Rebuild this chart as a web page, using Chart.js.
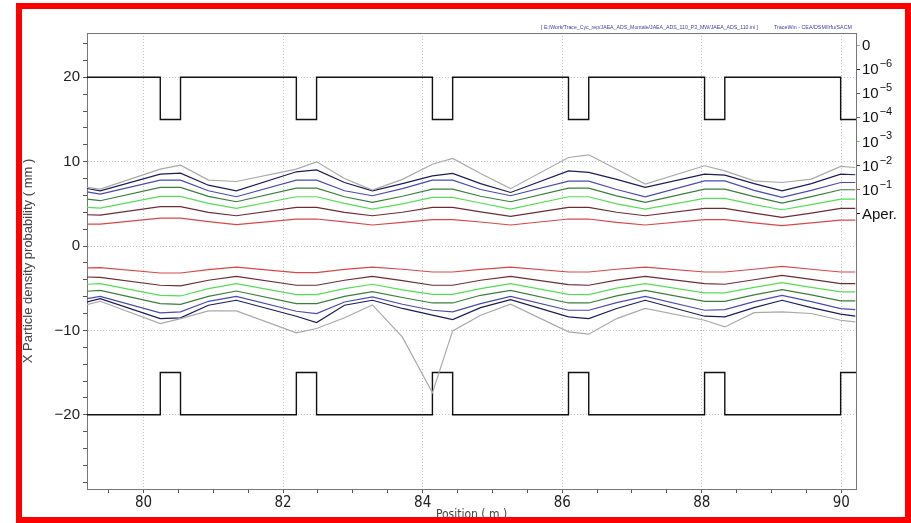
<!DOCTYPE html>
<html>
<head>
<meta charset="utf-8">
<script src="https://cdn.jsdelivr.net/npm/chart.js@4.4.1/dist/chart.umd.min.js"></script>
<style>
	html, body { margin: 0; padding: 0; background: #fff; }
	#wrap { position: relative; width: 911px; height: 523px; }
	#frame {
		position: absolute; left: 16px; top: 3px; width: 895px; height: 520px;
		box-sizing: border-box; border: 6px solid #ff0000; pointer-events: none;
	}
</style>
</head>
<body>
<div id="wrap">
	<canvas id="chart" width="911" height="523"></canvas>
	<div id="frame"></div>
</div>
<script>
'use strict';

// Sample positions along the line (m)
var positions = [79.19, 79.38, 80.24, 80.53, 80.93, 81.33, 82.19, 82.48, 82.88, 83.28,
	83.71, 84.14, 84.43, 84.83, 85.26, 86.09, 86.38, 86.78, 87.19, 88.04,
	88.33, 88.75, 89.15, 89.57, 89.99, 90.2];

// Upper envelopes (mm), one per density level
var upper0 = [6.95, 6.75, 9.11, 9.59, 7.81, 7.65, 9.11, 9.98, 8.0, 6.63,
	7.9, 9.7, 10.38, 8.6, 6.8, 10.49, 10.81, 9.1, 7.34, 9.51,
	8.91, 7.73, 7.53, 7.93, 9.43, 9.31];
var upper6 = [6.82, 6.55, 8.52, 8.64, 7.21, 6.55, 8.8, 9.03, 7.53, 6.55,
	7.4, 8.32, 8.6, 7.4, 6.35, 8.91, 8.72, 7.9, 6.95, 8.52,
	8.4, 7.4, 6.55, 7.4, 8.52, 8.45];
var upper5 = [6.43, 6.15, 7.81, 7.81, 6.55, 5.84, 7.81, 7.81, 6.55, 5.96,
	6.8, 7.81, 7.81, 6.7, 5.96, 7.69, 7.69, 6.7, 5.84, 7.73,
	7.73, 6.6, 5.76, 6.6, 7.53, 7.53];
var upper4 = [5.56, 5.37, 6.95, 6.95, 5.88, 5.25, 6.87, 6.87, 5.84, 5.17,
	5.9, 6.75, 6.75, 5.9, 5.25, 6.87, 6.87, 5.95, 5.17, 6.75,
	6.75, 5.85, 5.09, 5.85, 6.67, 6.67];
var upper3 = [4.58, 4.5, 5.88, 5.88, 5.05, 4.46, 5.84, 5.84, 5.05, 4.38,
	5.0, 5.76, 5.76, 5.1, 4.38, 5.84, 5.84, 5.0, 4.38, 5.64,
	5.64, 4.9, 4.3, 4.9, 5.56, 5.56];
var upper2 = [3.71, 3.67, 4.66, 4.66, 3.98, 3.59, 4.58, 4.58, 3.98, 3.59,
	4.0, 4.58, 4.58, 4.05, 3.51, 4.58, 4.58, 4.0, 3.59, 4.46,
	4.46, 3.9, 3.39, 3.9, 4.46, 4.46];
var upper1 = [2.6, 2.6, 3.31, 3.31, 2.9, 2.53, 3.2, 3.2, 2.87, 2.49,
	2.8, 3.12, 3.12, 2.85, 2.49, 3.2, 3.2, 2.8, 2.49, 3.12,
	3.12, 2.75, 2.41, 2.75, 3.08, 3.08];

// Lower envelopes (mm)
var lower0 = [-6.94, -6.55, -9.19, -8.6, -7.69, -7.69, -10.3, -9.78, -8.5, -6.98,
	-10.8, -17.4, -10.06, -8.2, -6.9, -10.17, -10.45, -8.6, -7.4, -8.8,
	-9.59, -7.9, -7.8, -8.0, -8.8, -9.0];
var lower6 = [-6.63, -6.23, -8.6, -8.52, -7.02, -6.43, -8.32, -9.07, -7.02, -6.43,
	-7.4, -8.2, -8.72, -7.3, -6.35, -8.4, -8.6, -7.4, -6.43, -8.32,
	-8.4, -7.3, -6.43, -7.3, -8.08, -8.32];
var lower5 = [-6.23, -5.96, -7.93, -7.81, -6.55, -5.96, -7.73, -8.01, -6.63, -6.04,
	-6.9, -7.61, -7.81, -6.83, -5.96, -7.61, -7.61, -6.7, -5.96, -7.61,
	-7.53, -6.6, -5.84, -6.6, -7.42, -7.53];
var lower4 = [-5.36, -5.25, -6.83, -6.91, -5.96, -5.33, -6.83, -6.83, -5.96, -5.41,
	-6.1, -6.75, -6.75, -5.84, -5.25, -6.75, -6.75, -5.9, -5.25, -6.55,
	-6.55, -5.8, -5.17, -5.8, -6.51, -6.51];
var lower3 = [-4.53, -4.46, -5.84, -5.92, -5.05, -4.46, -5.76, -5.76, -5.05, -4.53,
	-5.2, -5.72, -5.72, -5.05, -4.46, -5.72, -5.76, -5.0, -4.46, -5.56,
	-5.56, -4.9, -4.34, -4.9, -5.44, -5.44];
var lower2 = [-3.67, -3.71, -4.65, -4.72, -4.06, -3.59, -4.65, -4.65, -4.06, -3.59,
	-4.1, -4.65, -4.65, -4.06, -3.59, -4.58, -4.65, -4.05, -3.59, -4.46,
	-4.53, -4.0, -3.47, -3.95, -4.46, -4.46];
var lower1 = [-2.6, -2.57, -3.2, -3.2, -2.8, -2.49, -3.16, -3.16, -2.76, -2.49,
	-2.75, -3.08, -3.08, -2.76, -2.49, -3.08, -3.08, -2.75, -2.49, -3.08,
	-3.08, -2.75, -2.41, -2.75, -3.08, -3.08];

// Aperture: pipe radius and quadrupole entries (m)
var pipeRadius = 20;
var quadRadius = 15;
var quadStarts = [80.24, 82.19, 84.14, 86.09, 88.04, 89.99];
var quadLength = 0.29;

// Right-hand key, top to bottom: base text and optional exponent
var keyBases = ['0', '10', '10', '10', '10', '10', '10', 'Aper.'];
var keyExponents = ['', '\u22126', '\u22125', '\u22124', '\u22123', '\u22122', '\u22121', ''];
var keyColors = ['#a9a9a9', '#1c1c5c', '#4a4ab4', '#3b7f3b', '#55dd55', '#6e2c36', '#d84848', '#111111'];

var fileLabel = '[ E:/Work/Trace_Cyc_rep/JAEA_ADS_Montale/JAEA_ADS_110_P3_MW/JAEA_ADS_110.ini ]';
var codeLabel = 'TraceWin - CEA/DSM/Irfu/SACM';

var xMin = 79.19, xMax = 90.21;
var yMin = -28.8, yMax = 25.25;

var sansFont = '"Liberation Sans", Arial, sans-serif';
var narrowFont = '"Liberation Sans Narrow", "DejaVu Sans Condensed", sans-serif';

function pairs(ys) {
	return positions.map(function (x, i) { return { x: x, y: ys[i] }; });
}

// Pipe outline as a step line; each quadrupole narrows it for quadLength
function aperture(sign) {
	var pts = [{ x: xMin, y: sign * pipeRadius }];
	quadStarts.forEach(function (s) {
		pts.push({ x: s, y: sign * quadRadius });
		pts.push({ x: s + quadLength, y: sign * pipeRadius });
	});
	pts.push({ x: xMax, y: pts[pts.length - 1].y });
	return pts;
}

function envelope(ys, color) {
	return {
		data: pairs(ys),
		borderColor: color,
		borderWidth: 1.2,
		pointRadius: 0,
		tension: 0,
		yAxisID: 'y'
	};
}

var levels = [
	[upper0, lower0], [upper6, lower6], [upper5, lower5], [upper4, lower4],
	[upper3, lower3], [upper2, lower2], [upper1, lower1]
];

var datasets = [];
levels.forEach(function (pair, i) {
	datasets.push(envelope(pair[0], keyColors[i]));
	datasets.push(envelope(pair[1], keyColors[i]));
});
[1, -1].forEach(function (sign) {
	datasets.push({
		data: aperture(sign),
		borderColor: keyColors[7],
		borderWidth: 1.4,
		pointRadius: 0,
		stepped: 'before',
		yAxisID: 'y'
	});
});

var frame = {
	id: 'frame',
	beforeDatasetsDraw: function (chart) {
		var a = chart.chartArea, ctx = chart.ctx;
		ctx.save();
		ctx.strokeStyle = '#777';
		ctx.lineWidth = 1;
		ctx.strokeRect(a.left + 0.5, a.top + 0.5, a.right - a.left, a.bottom - a.top);
		ctx.restore();
	},
	afterDraw: function (chart) {
		var a = chart.chartArea, ctx = chart.ctx;
		var key = chart.scales.key;
		ctx.save();
		ctx.font = '6px ' + sansFont;
		ctx.fillStyle = '#3c3ca8';
		ctx.textBaseline = 'middle';
		ctx.fillText(fileLabel, a.right - 315, a.top - 6, 217);
		ctx.fillText(codeLabel, a.right - 82, a.top - 6, 78);

		// key labels with raised exponents
		ctx.fillStyle = '#111';
		keyBases.forEach(function (base, i) {
			var y = key.getPixelForValue(i);
			var x = a.right + 6;
			ctx.font = '15px ' + sansFont;
			ctx.fillText(base, x, y + 1);
			if (keyExponents[i]) {
				var w = ctx.measureText(base).width;
				ctx.font = '11px ' + sansFont;
				ctx.fillText(keyExponents[i], x + w + 1, y - 5);
			}
		});
		ctx.restore();
	}
};

function isWhole(v, step) {
	var r = Math.round(v);
	return Math.abs(v - r) < 1e-6 && r % step === 0;
}

new Chart(document.getElementById('chart'), {
	type: 'line',
	data: { datasets: datasets },
	plugins: [frame],
	options: {
		responsive: false,
		animation: false,
		layout: { padding: { top: 33, left: 0, right: 0, bottom: 0 } },
		plugins: {
			legend: { display: false },
			tooltip: { enabled: false }
		},
		scales: {
			x: {
				type: 'linear',
				min: xMin,
				max: xMax,
				afterFit: function (scale) { scale.height = 34; },
				border: { color: '#555', dash: [1, 2] },
				grid: {
					color: function (c) { return isWhole(c.tick.value, 2) ? '#c4c4c4' : 'rgba(0,0,0,0)'; },
					tickColor: '#555',
					tickLength: 4
				},
				ticks: {
					stepSize: 0.5,
					includeBounds: false,
					autoSkip: false,
					maxRotation: 0,
					padding: 1,
					color: '#222',
					font: { family: narrowFont, size: 15 },
					callback: function (v) { return isWhole(v, 2) ? String(Math.round(v)) : ''; }
				},
				title: {
					display: true,
					text: 'Position ( m )',
					color: '#444',
					padding: { top: 0, bottom: 1 },
					font: { family: narrowFont, size: 12 }
				}
			},
			y: {
				position: 'left',
				min: yMin,
				max: yMax,
				afterFit: function (scale) { scale.width = 87; },
				border: { color: '#555', dash: [1, 2] },
				grid: {
					color: function (c) { return isWhole(c.tick.value, 10) ? '#c4c4c4' : 'rgba(0,0,0,0)'; },
					tickColor: '#555',
					tickLength: 4
				},
				ticks: {
					stepSize: 2,
					includeBounds: false,
					autoSkip: false,
					padding: 3,
					color: '#222',
					font: { family: sansFont, size: 15 },
					callback: function (v) {
						if (!isWhole(v, 10)) return '';
						var n = Math.round(v);
						return n < 0 ? '\u2212' + (-n) : String(n);
					}
				},
				title: {
					display: true,
					text: 'X Particle density probability ( mm )',
					color: '#444',
					padding: { top: 21, bottom: 0 },
					font: { family: sansFont, size: 13 }
				}
			},
			key: {
				position: 'right',
				min: -0.5,
				max: 18.42,
				reverse: true,
				afterFit: function (scale) { scale.width = 55; },
				afterBuildTicks: function (scale) {
					scale.ticks = keyBases.map(function (_, i) { return { value: i }; });
				},
				border: { color: '#777' },
				grid: {
					drawOnChartArea: false,
					tickLength: 4,
					tickColor: function (c) { return keyColors[c.index] || '#777'; }
				},
				ticks: {
					autoSkip: false,
					padding: 2,
					font: { family: sansFont, size: 15 },
					callback: function () { return ''; }
				}
			}
		}
	}
});
</script>
</body>
</html>
